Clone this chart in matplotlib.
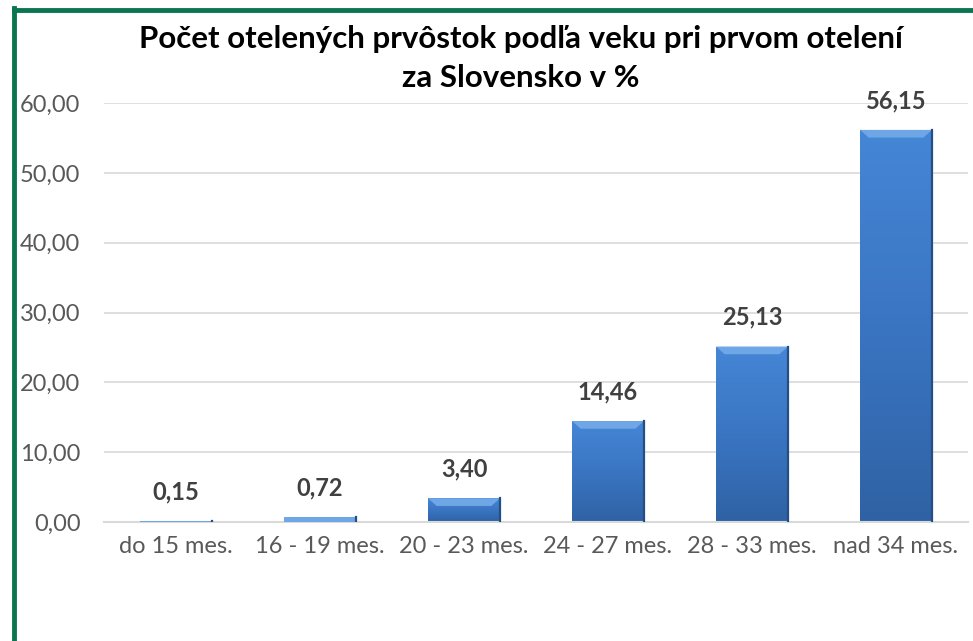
import matplotlib
matplotlib.use("Agg")
import matplotlib.pyplot as plt
import numpy as np
from matplotlib.colors import LinearSegmentedColormap
from matplotlib.lines import Line2D
from matplotlib.patches import Polygon

CATEGORIES = ["do 15 mes.", "16 - 19 mes.", "20 - 23 mes.", "24 - 27 mes.", "28 - 33 mes.", "nad 34 mes."]
VALUES = [0.15, 0.72, 3.40, 14.46, 25.13, 56.15]
Y_TICKS = [0, 10, 20, 30, 40, 50, 60]
TITLE = "Počet otelených prvôstok podľa veku pri prvom otelení\nza Slovensko v %"

FONT = ["Lato", "DejaVu Sans"]
GRID_COLOR = "#d9d9d9"
TEXT_COLOR = "#595959"
LABEL_COLOR = "#404040"
FRAME_COLOR = "#0b7550"


def fmt(v):
    return f"{v:.2f}".replace(".", ",")


def gradient_bars(ax, bars):
    cmap = LinearSegmentedColormap.from_list("bar", ["#2f62a4", "#3a75c2", "#4586d6"])
    grad = np.linspace(0, 1, 256).reshape(-1, 1)
    for rect in bars:
        x0, y0 = rect.get_x(), rect.get_y()
        w, h = rect.get_width(), rect.get_height()
        im = ax.imshow(grad, cmap=cmap, aspect="auto", origin="lower",
                       extent=(x0, x0 + w, y0, y0 + h), zorder=2.5)
        im.set_clip_path(rect)
        # light bevel at the top
        bevel = min(h, 1.1)
        inset = 0.06 if h > 1.1 else 0.0
        top = y0 + h
        ax.add_patch(Polygon([(x0, top), (x0 + w, top), (x0 + w - inset, top - bevel),
                              (x0 + inset, top - bevel)], closed=True,
                             facecolor="#6ea6e6", edgecolor="none", zorder=2.6))
        # darker right edge
        ax.plot([x0 + w, x0 + w], [y0, top], color="#244f86", lw=1.6, zorder=2.7)


fig = plt.figure(figsize=(9.73, 6.41), dpi=100)
ax = fig.add_axes([0.1069, 0.1856, 0.888, 0.6537])

x = np.arange(len(CATEGORIES))
bars = ax.bar(x, VALUES, width=0.5, color="#3b78c4", edgecolor="none", zorder=2)
gradient_bars(ax, bars)

for xi, v in zip(x, VALUES):
    ax.annotate(fmt(v), (xi, v), xytext=(0, 21), textcoords="offset points",
                ha="center", va="center", fontsize=17, fontweight="bold",
                color=LABEL_COLOR, family=FONT)

ax.set_xlim(-0.5, len(CATEGORIES) - 0.5)
ax.set_ylim(0, 60)
ax.set_yticks(Y_TICKS)
ax.set_yticklabels([fmt(t) for t in Y_TICKS], family=FONT, fontsize=17, color=TEXT_COLOR)
ax.set_xticks(x)
ax.set_xticklabels(CATEGORIES, family=FONT, fontsize=17, color=TEXT_COLOR)
ax.tick_params(axis="both", length=0)
ax.tick_params(axis="x", pad=10)
ax.tick_params(axis="y", pad=17)
ax.grid(axis="y", color=GRID_COLOR, lw=1.2, zorder=0)
ax.set_axisbelow(True)
for side in ["top", "right", "left"]:
    ax.spines[side].set_visible(False)
ax.spines["bottom"].set_color(GRID_COLOR)
ax.spines["bottom"].set_linewidth(1.5)

fig.text(0.535, 0.909, TITLE, ha="center", va="center", fontsize=22.5,
         fontweight="bold", color="#000000", family=FONT, linespacing=1.45)

# green frame (top and left edges)
fig.add_artist(Line2D([14 / 973, 1], [1 - 10 / 641, 1 - 10 / 641], transform=fig.transFigure,
                      color=FRAME_COLOR, lw=3.5))
fig.add_artist(Line2D([14 / 973, 14 / 973], [0, 1 - 8 / 641], transform=fig.transFigure,
                      color=FRAME_COLOR, lw=3.5))

fig.savefig("out.png", dpi=100)
